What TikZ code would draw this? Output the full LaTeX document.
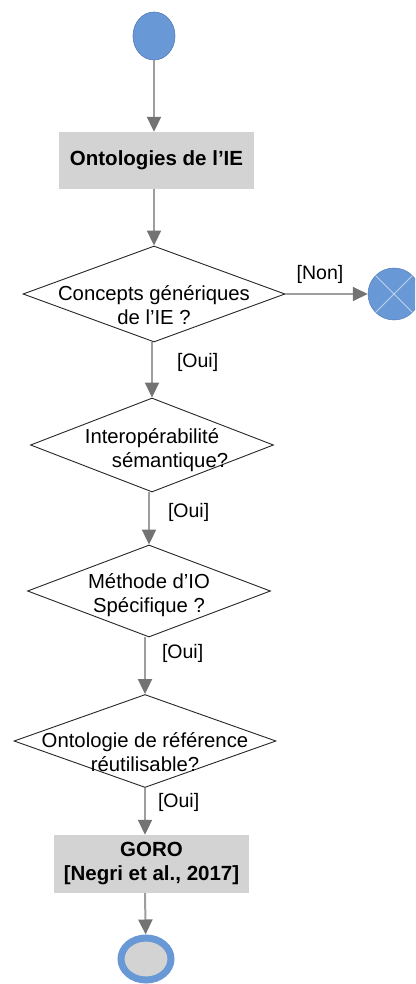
\documentclass[tikz,border=0pt]{standalone}
\usepackage{fontspec}
\setmainfont{Liberation Sans}
\usetikzlibrary{arrows.meta,shapes.geometric}
\definecolor{nodeblue}{RGB}{104,152,214}
\definecolor{edgeblue}{RGB}{80,122,184}
\definecolor{boxgray}{RGB}{211,211,211}
\newcommand{\myflowgray}{black!38}
\newcommand{\myheadgray}{black!55}
\newcommand{\myfont}{\fontsize{19.5}{24}\selectfont}
\newcommand{\myqfont}{\fontsize{20.3}{24}\selectfont}

\begin{document}
\begin{tikzpicture}[x = 1pt, y = -1pt,
  flow/.style = {line width = 2pt, draw = \myflowgray,
    -{Triangle[length = 15pt, width = 14pt, fill = \myheadgray, color = \myheadgray]}},
  decision/.style = {shape = diamond, draw = black!85, line width = .9pt, fill = white, inner sep = 0pt},
  action/.style = {draw = none, fill = boxgray, minimum width = 195pt, minimum height = 57pt,
    align = center, font = \fontsize{20.5}{24}\selectfont\bfseries},
  qtext/.style = {align = center, inner sep = 0pt, font = \myqfont},
  guard/.style = {inner sep = 0pt, font = \myfont}]
\useasboundingbox (0,0) rectangle (415,984);
\clip (0,0) rectangle (415,984);

% start, action and end nodes
\node[ellipse, draw = edgeblue, fill = nodeblue, line width = .6pt, minimum width = 42pt, minimum height = 48pt, inner sep = 0pt] (debut) at (154,36) {};
\node[action] (ontoIE) at (156.5,160.5) {Ontologies de l’IE};
\node[action, minimum height = 58pt] (goro) at (151.5,864) {GORO\\{}[Negri et al., 2017]};
\node[ellipse, draw = nodeblue, line width = 7pt, fill = boxgray, minimum width = 50pt, minimum height = 42pt, inner sep = 0pt] (fin) at (146,959) {};
\node[circle, draw = edgeblue, fill = nodeblue, line width = .5pt, minimum size = 52pt, inner sep = 0pt] (rejet) at (394,294) {};
\draw[white!55!nodeblue, line width = .8pt] (rejet.north west) -- (rejet.south east)
  (rejet.north east) -- (rejet.south west);

% decisions
\node[decision, minimum width = 262pt, minimum height = 96pt] (qConcepts) at (154,294) {};
\node[qtext, yshift = -11pt] (tConcepts) at (qConcepts) {Concepts génériques\\de l'IE ?};
\node[decision, minimum width = 243pt, minimum height = 94pt] (qInterop) at (152,445) {};
\node[qtext, yshift = -5pt] (tInterop) at (qInterop) {Interopérabilité\\\hspace*{36pt}sémantique?};
\node[decision, minimum width = 243pt, minimum height = 92pt] (qMethode) at (149,591) {};
\node[qtext, yshift = -4pt] (tMethode) at (qMethode) {Méthode d’IO\\Spécifique ?};
\node[decision, minimum width = 262pt, minimum height = 93pt] (qReuse) at (145,741) {};
\node[qtext, yshift = -11pt] (tReuse) at (qReuse) {Ontologie de référence\\réutilisable?};

% flows
\draw[flow] (debut) -- (debut |- ontoIE.north);
\draw[flow] (ontoIE.south -| qConcepts) -- (qConcepts);
\draw[flow] (qConcepts.east) -- node[guard, above = 9pt, pos = .42] (gNon) {[Non]} (rejet);
\draw[flow] (qInterop.north |- qConcepts.south) -- node[guard, anchor = west, xshift = 24pt, pos = .36] (gOui1) {[Oui]} (qInterop.north);
\draw[flow] (qMethode.north |- qInterop.south) -- node[guard, anchor = west, xshift = 18pt, pos = .38] (gOui2) {[Oui]} (qMethode.north);
\draw[flow] (qReuse.north |- qMethode.south) -- node[guard, anchor = west, xshift = 16pt, pos = .28] (gOui3) {[Oui]} (qReuse.north);
\draw[flow] (qReuse.south) -- node[guard, anchor = west, xshift = 12pt, pos = .3] (gOui4) {[Oui]} (qReuse.south |- goro.north);
\draw[flow] (goro.south -| qReuse.south) -- (fin);
\end{tikzpicture}
\end{document}
